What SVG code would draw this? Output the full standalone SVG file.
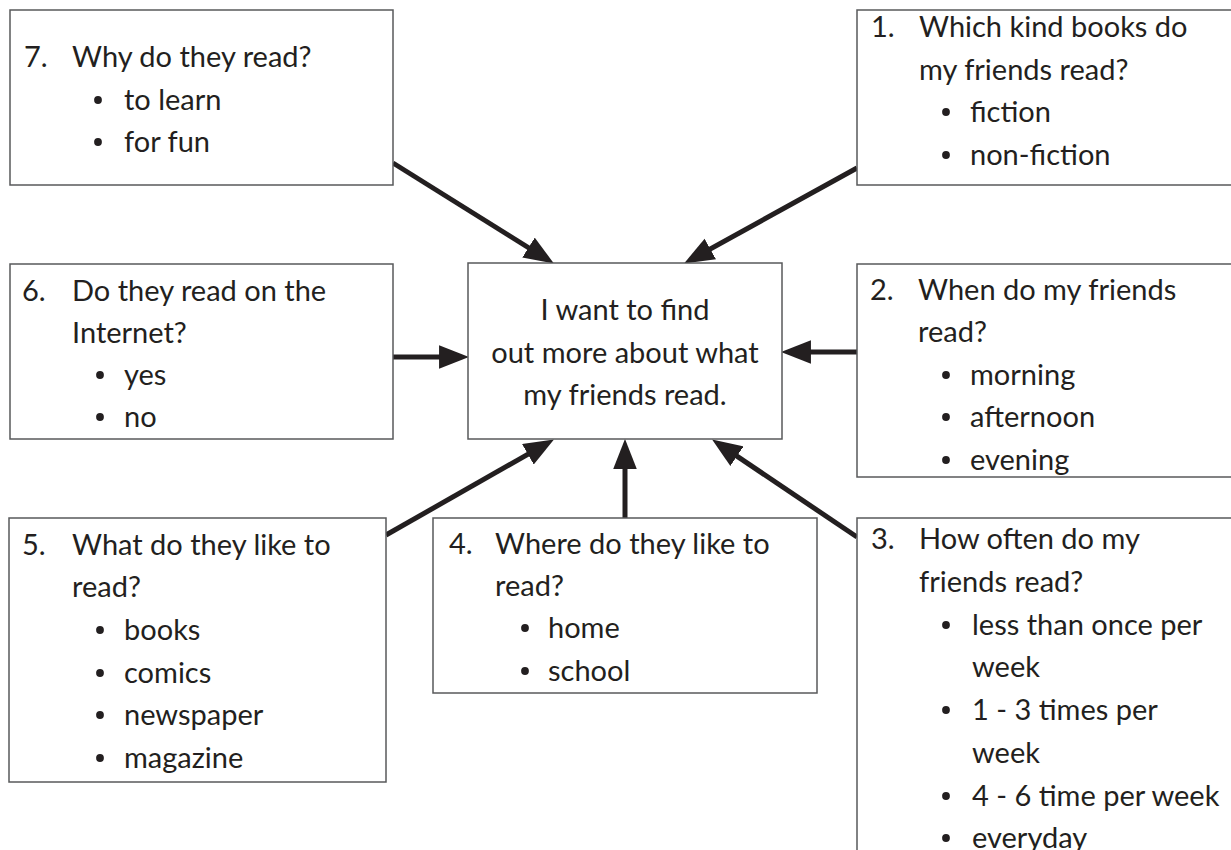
<svg xmlns="http://www.w3.org/2000/svg" width="1231" height="850" viewBox="0 0 1231 850">
<style>
  .box { fill: #ffffff; stroke: #58595b; stroke-width: 1.5; }
  .t { font-family: Lato, "Liberation Sans", sans-serif; font-size: 29px; fill: #231f20; }
  .c { text-anchor: middle; }
  .arrow { stroke: #231f20; stroke-width: 5; fill: none; marker-end: url(#head); }
  .dot { fill: #231f20; }
</style>
<defs>
  <marker id="head" markerUnits="userSpaceOnUse" markerWidth="30" markerHeight="24" viewBox="0 0 28 22" refX="13" refY="11" orient="auto">
    <path d="M0,0 L28,11 L0,22 Z" fill="#231f20"/>
  </marker>
  <circle id="b" r="3.9" class="dot"/>
</defs>
<rect width="1231" height="850" fill="#ffffff"/>

<g id="connectors">
  <line class="arrow" x1="393" y1="163" x2="540.3" y2="255"/>
  <line class="arrow" x1="857" y1="168" x2="698.1" y2="255.7"/>
  <line class="arrow" x1="393" y1="357" x2="453" y2="357"/>
  <line class="arrow" x1="857" y1="352" x2="797" y2="352"/>
  <line class="arrow" x1="386" y1="535" x2="540" y2="447.4"/>
  <line class="arrow" x1="625" y1="518" x2="625" y2="455"/>
  <line class="arrow" x1="857" y1="537" x2="725.4" y2="448.4"/>
</g>

<g id="center">
  <rect class="box" x="468" y="263" width="314" height="176"/>
  <text class="t c" x="625" y="320">I want to find</text>
  <text class="t c" x="625" y="363">out more about what</text>
  <text class="t c" x="625" y="405">my friends read.</text>
</g>

<g id="node7">
  <rect class="box" x="10" y="10" width="383" height="175"/>
  <text class="t" x="24" y="67">7.</text>
  <text class="t" x="72" y="67">Why do they read?</text>
  <use href="#b" x="98" y="100"/><text class="t" x="124" y="110">to learn</text>
  <use href="#b" x="98" y="142"/><text class="t" x="124" y="152">for fun</text>
</g>

<g id="node1">
  <rect class="box" x="857" y="10" width="385" height="175"/>
  <text class="t" x="871" y="37">1.</text>
  <text class="t" x="919" y="37">Which kind books do</text>
  <text class="t" x="919" y="80">my friends read?</text>
  <use href="#b" x="946" y="112"/><text class="t" x="970" y="122">fiction</text>
  <use href="#b" x="946" y="155"/><text class="t" x="970" y="165">non-fiction</text>
</g>

<g id="node6">
  <rect class="box" x="10" y="264" width="383" height="175"/>
  <text class="t" x="22" y="301">6.</text>
  <text class="t" x="72" y="301">Do they read on the</text>
  <text class="t" x="72" y="343">Internet?</text>
  <use href="#b" x="100" y="375"/><text class="t" x="124" y="385">yes</text>
  <use href="#b" x="100" y="417"/><text class="t" x="124" y="427">no</text>
</g>

<g id="node2">
  <rect class="box" x="857" y="264" width="385" height="213"/>
  <text class="t" x="870" y="300">2.</text>
  <text class="t" x="918" y="300">When do my friends</text>
  <text class="t" x="918" y="342">read?</text>
  <use href="#b" x="946" y="375"/><text class="t" x="970" y="385">morning</text>
  <use href="#b" x="946" y="417"/><text class="t" x="970" y="427">afternoon</text>
  <use href="#b" x="946" y="460"/><text class="t" x="970" y="470">evening</text>
</g>

<g id="node5">
  <rect class="box" x="9" y="518" width="377" height="264"/>
  <text class="t" x="22" y="555">5.</text>
  <text class="t" x="72" y="555">What do they like to</text>
  <text class="t" x="72" y="597">read?</text>
  <use href="#b" x="100" y="630"/><text class="t" x="124" y="640">books</text>
  <use href="#b" x="100" y="673"/><text class="t" x="124" y="683">comics</text>
  <use href="#b" x="100" y="715"/><text class="t" x="124" y="725">newspaper</text>
  <use href="#b" x="100" y="758"/><text class="t" x="124" y="768">magazine</text>
</g>

<g id="node4">
  <rect class="box" x="433" y="518" width="384" height="175"/>
  <text class="t" x="449" y="554">4.</text>
  <text class="t" x="495" y="554">Where do they like to</text>
  <text class="t" x="495" y="596">read?</text>
  <use href="#b" x="525" y="628"/><text class="t" x="548" y="638">home</text>
  <use href="#b" x="525" y="671"/><text class="t" x="548" y="681">school</text>
</g>

<g id="node3">
  <rect class="box" x="857" y="518" width="385" height="345"/>
  <text class="t" x="871" y="549">3.</text>
  <text class="t" x="919" y="549">How often do my</text>
  <text class="t" x="919" y="592">friends read?</text>
  <use href="#b" x="946" y="625"/><text class="t" x="972" y="635">less than once per</text>
  <text class="t" x="972" y="677">week</text>
  <use href="#b" x="946" y="710"/><text class="t" x="972" y="720">1 - 3 times per</text>
  <text class="t" x="972" y="763">week</text>
  <use href="#b" x="946" y="796"/><text class="t" x="972" y="806">4 - 6 time per week</text>
  <use href="#b" x="946" y="838"/><text class="t" x="972" y="848">everyday</text>
</g>
</svg>
